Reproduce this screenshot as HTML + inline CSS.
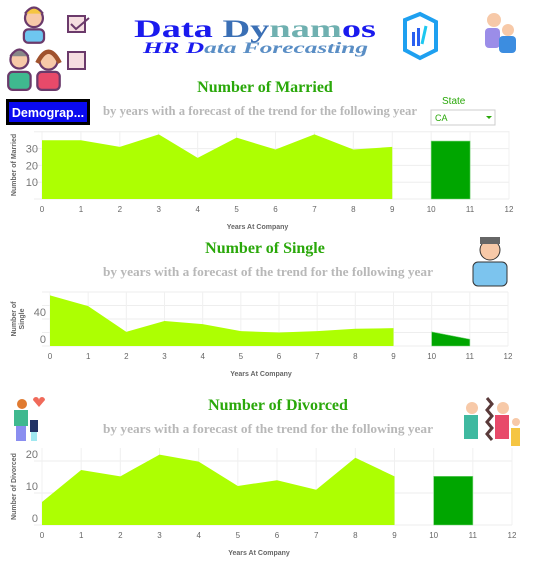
<!DOCTYPE html>
<html><head><meta charset="utf-8"><style>
html,body{margin:0;padding:0;background:#fff;width:539px;height:562px;overflow:hidden}
svg{display:block}
.tk{font-family:"Liberation Sans",sans-serif;font-size:8px;fill:#666}
.yt{font-family:"Liberation Sans",sans-serif;font-size:11px;fill:#777}
.ax{font-family:"Liberation Sans",sans-serif;font-size:7px;font-weight:bold;fill:#666}
.ttl{font-family:"Liberation Serif",serif;font-size:16px;font-weight:bold;fill:#2aa80a}
.sub{font-family:"Liberation Serif",serif;font-size:12.5px;font-weight:bold;fill:#b8b8b8}
</style></head><body>
<svg id="root" width="539" height="562" viewBox="0 0 539 562" xmlns="http://www.w3.org/2000/svg">
<g transform="translate(-3,-2) scale(1.12)">
<circle cx="33" cy="18" r="8" fill="#f7c9a8" stroke="#6b3a6b" stroke-width="2"/>
<path d="M25 14 Q33 3 41 14" fill="#f5c542" stroke="#6b3a6b" stroke-width="2"/>
<rect x="24" y="28" width="18" height="12" rx="4" fill="#6ec6f0" stroke="#6b3a6b" stroke-width="2"/>
<circle cx="20" cy="55" r="8" fill="#f7c9a8" stroke="#6b3a6b" stroke-width="2"/>
<path d="M12 52 Q20 40 28 52" fill="#888" stroke="#6b3a6b" stroke-width="2"/>
<rect x="10" y="66" width="20" height="16" rx="4" fill="#3fb98f" stroke="#6b3a6b" stroke-width="2"/>
<circle cx="46" cy="56" r="8" fill="#f7c9a8" stroke="#6b3a6b" stroke-width="2"/>
<path d="M36 58 Q46 38 56 58" fill="none" stroke="#a0522d" stroke-width="4"/>
<rect x="36" y="66" width="20" height="16" rx="4" fill="#e84a6a" stroke="#6b3a6b" stroke-width="2"/>
</g>
<g><rect x="68" y="16" width="17" height="16" fill="#f5dde0" stroke="#6b3a6b" stroke-width="2"/><path d="M71 24 L76 29 L89 18" fill="none" stroke="#6b3a6b" stroke-width="2"/></g>
<g><rect x="68" y="52" width="17" height="17" fill="#f5dde0" stroke="#6b3a6b" stroke-width="2"/></g>
<text x="134" y="37" textLength="242" lengthAdjust="spacingAndGlyphs" font-family="Liberation Serif,serif" font-weight="bold" font-size="25"><tspan fill="#1a1aee">Data </tspan><tspan fill="#3a6fb5">Dy</tspan><tspan fill="#6fb0b0">nam</tspan><tspan fill="#1a1aee">os</tspan></text>
<text x="143" y="53" textLength="225" lengthAdjust="spacingAndGlyphs" font-family="Liberation Serif,serif" font-weight="bold" font-style="italic" font-size="16"><tspan fill="#1a1aee">HR D</tspan><tspan fill="#5a8ec5">ata Forecasting</tspan></text>
<g><path d="M405 20 L420 14 L436 22 L436 50 L420 58 L405 50 Z" fill="none" stroke="#1ea0f0" stroke-width="4"/><rect x="412" y="32" width="3" height="14" fill="#2a60f0"/><rect x="417" y="28" width="3" height="18" fill="#2a60f0"/><path d="M422 44 L426 26" stroke="#1ec8f0" stroke-width="3"/></g>
<g><circle cx="494" cy="20" r="7" fill="#f7c9a8"/><circle cx="508" cy="30" r="6" fill="#f7c9a8"/><rect x="485" y="28" width="15" height="20" rx="4" fill="#9b8de8"/><rect x="499" y="36" width="17" height="17" rx="4" fill="#3c8de0"/></g>
<g><rect x="6" y="99" width="84" height="26" fill="#000"/><rect x="9" y="102" width="78" height="20" fill="#0a0af0"/><text x="48" y="117" text-anchor="middle" font-family="Liberation Sans,sans-serif" font-weight="bold" font-size="12.5" fill="#fff">Demograp...</text></g>
<text x="442" y="104" font-family="Liberation Sans,sans-serif" font-size="10" fill="#2aa80a">State</text>
<g><rect x="431" y="110" width="64" height="15" fill="#fff" stroke="#ccc"/><text x="435" y="121" font-family="Liberation Sans,sans-serif" font-size="9" fill="#2aa80a">CA</text><path d="M486 116 L492 116 L489 119 Z" fill="#2aa80a"/></g>
<g><circle cx="490" cy="250" r="10" fill="#f7c9a8" stroke="#333"/><rect x="480" y="237" width="20" height="7" fill="#666"/><rect x="473" y="262" width="34" height="24" rx="5" fill="#7cc4ee" stroke="#333"/></g>
<g><circle cx="22" cy="404" r="5" fill="#e07a30"/><rect x="14" y="410" width="14" height="16" fill="#3fb98f"/><rect x="16" y="426" width="10" height="15" fill="#8a8ef0"/><path d="M33 400 a3 3 0 0 1 6 0 a3 3 0 0 1 6 0 l-6 7 z" fill="#f06a5a"/><rect x="30" y="420" width="8" height="12" fill="#223366"/><rect x="31" y="432" width="6" height="9" fill="#a0e8f0"/></g>
<g><circle cx="472" cy="408" r="6" fill="#f7c9a8"/><rect x="464" y="415" width="14" height="24" fill="#3fb9a0"/><path d="M487 398 l5 6 l-5 6 l5 6 l-5 6 l5 6 l-5 6 l5 6" fill="none" stroke="#5a3a3a" stroke-width="3"/><circle cx="503" cy="408" r="6" fill="#f7c9a8"/><rect x="495" y="415" width="14" height="24" fill="#e84a6a"/><circle cx="516" cy="422" r="4" fill="#f7c9a8"/><rect x="511" y="428" width="9" height="18" fill="#f5c542"/></g>
<text class="ttl" x="265" y="92" text-anchor="middle">Number of Married</text>
<text class="sub" x="103" y="115" textLength="314" lengthAdjust="spacingAndGlyphs">by years with a forecast of the trend for the following year</text>
<text class="ttl" x="265" y="253" text-anchor="middle">Number of Single</text>
<text class="sub" x="103" y="276" textLength="330" lengthAdjust="spacingAndGlyphs">by years with a forecast of the trend for the following year</text>
<text class="ttl" x="278" y="410" text-anchor="middle">Number of  Divorced</text>
<text class="sub" x="103" y="433" textLength="330" lengthAdjust="spacingAndGlyphs">by years with a forecast of the trend for the following year</text>
<g id="charts"></g>
</svg>
<script>
const years = [0,1,2,3,4,5,6,7,8,9];
const xTicks = [0,1,2,3,4,5,6,7,8,9,10,11,12];
const marriedValues = [35,35,31,38.5,24.5,36.5,29.5,38.5,29.5,31];
const marriedForecast = [34.5,34.5];
const marriedTicks = [10,20,30];
const singleValues = [75,59,21,37,32.5,22,20,22,25.5,26.5];
const singleForecast = [21,10];
const singleTicks = [0,40];
const divorcedValues = [7.2,17.2,15.2,22,19.8,12.2,14,11,21,15.2];
const divorcedForecast = [15.2,15.2];
const divorcedTicks = [0,10,20];
const forecastYears = [10,11];

const NS = "http://www.w3.org/2000/svg";
const root = document.getElementById('charts');
function mk(tag, attrs, parent){const e=document.createElementNS(NS,tag);for(const k in attrs)e.setAttribute(k,attrs[k]);(parent||root).appendChild(e);return e;}

function drawChart(cfg){
  const g = mk('g',{});
  
  
  const x = v => cfg.x0 + (cfg.x1-cfg.x0)*v/12;
  const y = v => cfg.base - v*cfg.ppu;
  cfg.grid.forEach(v=>{ const l=mk('line',{x1:cfg.x0-8,x2:cfg.x1,y1:y(v),y2:y(v),stroke:'#eeeeee','stroke-width':1},g);
     });
  xTicks.forEach(t=>{ mk('line',{x1:x(t),x2:x(t),y1:cfg.top,y2:cfg.base,stroke:'#f0f0f0'},g);
    const tx=mk('text',{class:'tk',x:x(t),y:cfg.base+13,'text-anchor':'middle'},g); tx.textContent=t;
     });
  cfg.ticks.forEach(t=>{ const tx=mk('text',{class:'yt',x:cfg.x0-4,y:y(t)+4+(cfg.labelShift||0),'text-anchor':'end'},g); tx.textContent=t;
     });
  let d='M'+x(years[0])+','+cfg.base;
  years.forEach((yr,i)=>{ d+=' L'+x(yr)+','+y(cfg.values[i]); });
  d+=' L'+x(years[years.length-1])+','+cfg.base+' Z';
  const a=mk('path',{d:d,fill:'#adff02'},g);
   
  let f='M'+x(forecastYears[0])+','+cfg.base;
  forecastYears.forEach((yr,i)=>{ f+=' L'+x(yr)+','+y(cfg.forecast[i]); });
  f+=' L'+x(forecastYears[1])+','+cfg.base+' Z';
  const fa=mk('path',{d:f,fill:'#00a600',stroke:'#7ad67a','stroke-width':0.6},g);
   
  const xt=mk('text',{class:'ax',x:(cfg.x0+cfg.x1)/2-18,y:cfg.base+30,'text-anchor':'middle'},g); xt.textContent='Years At Company';
   
  const cy=(cfg.top+cfg.base)/2;
  cfg.ylabel.forEach((ln,i)=>{ const yt=mk('text',{class:'ax',transform:'translate('+(16+i*8)+','+cy+') rotate(-90)','text-anchor':'middle'},g); yt.textContent=ln;
     });
}
drawChart({name:'married-chart',x0:42,x1:509,base:199,top:131,ppu:1.68,grid:[0,10,20,30,40],ticks:marriedTicks,values:marriedValues,forecast:marriedForecast,ylabel:['Number of  Married']});
drawChart({name:'single-chart',x0:50,x1:508,base:346,top:292,ppu:0.675,grid:[0,20,40,60,80],ticks:singleTicks,values:singleValues,forecast:singleForecast,ylabel:['Number of','Single'],labelShift:-7});
drawChart({name:'divorced-chart',x0:42,x1:512,base:525,top:448,ppu:3.2,grid:[0,10,20],ticks:divorcedTicks,values:divorcedValues,forecast:divorcedForecast,ylabel:['Number of  Divorced'],labelShift:-7});
</script>
</body></html>
